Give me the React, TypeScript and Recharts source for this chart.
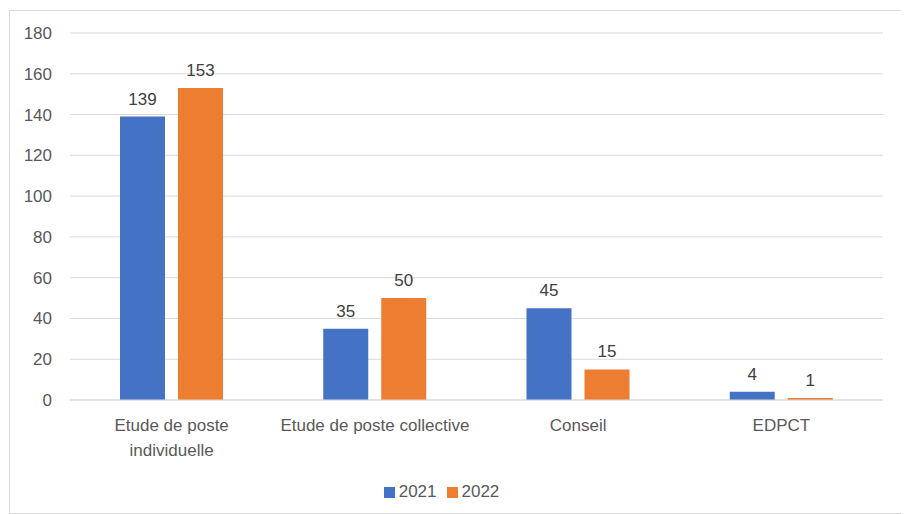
import React from 'react';
import { BarChart, Bar, XAxis, YAxis, CartesianGrid, Legend, LabelList } from 'recharts';

// Category labels, already split the way the original wraps them
const categoryLines: string[][] = [
  ['Etude de poste', 'individuelle'],
  ['Etude de poste collective'],
  ['Conseil'],
  ['EDPCT'],
];
const values2021 = [139, 35, 45, 4];
const values2022 = [153, 50, 15, 1];
const yTicks = [0, 20, 40, 60, 80, 100, 120, 140, 160, 180];

const data = categoryLines.map((lines, i) => ({
  name: lines.join(' '),
  y2021: values2021[i],
  y2022: values2022[i],
}));

const FONT = '"Liberation Sans", Arial, sans-serif';
const TEXT = '#595959';

const CategoryTick = (props: any) => {
  const { x, y, payload } = props;
  const idx = data.findIndex(d => d.name === payload.value);
  const lines = idx >= 0 ? categoryLines[idx] : [payload.value];
  return (
    <g transform={`translate(${x},${y})`}>
      {lines.map((l, i) => (
        <text key={i} x={0} y={i * 25} dy={23} textAnchor="middle" fill={TEXT} fontSize={17} fontFamily={FONT}>
          {l}
        </text>
      ))}
    </g>
  );
};

const App: React.FC = () => {
  return (
    <div style={{ marginLeft: 1, marginTop: 2, width: 895, height: 502, border: '1px solid #d9d9d9', background: '#fff' }}>
      <BarChart
        width={895}
        height={502}
        data={data}
        margin={{ top: 22, right: 22, left: 0, bottom: 11 }}
        barCategoryGap="24.6%"
        barGap={13}
      >
        <CartesianGrid vertical={false} stroke="#d9d9d9" />
        <XAxis
          dataKey="name"
          axisLine={{ stroke: '#d9d9d9' }}
          tickLine={false}
          tick={<CategoryTick />}
          height={82}
          interval={0}
        />
        <YAxis
          domain={[0, 180]}
          ticks={yTicks}
          width={60}
          axisLine={false}
          tickLine={false}
          tickSize={0}
          tickMargin={18}
          tick={{ fill: TEXT, fontSize: 17, fontFamily: FONT }}
        />
        <Legend
          verticalAlign="bottom"
          iconType="square"
          iconSize={11}
          wrapperStyle={{ fontFamily: FONT, fontSize: 17, color: TEXT }}
          formatter={(v: string) => <span style={{ color: TEXT }}>{v}</span>}
        />
        <Bar dataKey="y2021" name="2021" fill="#4472c4" isAnimationActive={false}>
          <LabelList dataKey="y2021" position="top" offset={12} fill="#404040" fontSize={17} fontFamily={FONT} />
        </Bar>
        <Bar dataKey="y2022" name="2022" fill="#ed7d31" isAnimationActive={false}>
          <LabelList dataKey="y2022" position="top" offset={12} fill="#404040" fontSize={17} fontFamily={FONT} />
        </Bar>
      </BarChart>
    </div>
  );
};

export default App;
